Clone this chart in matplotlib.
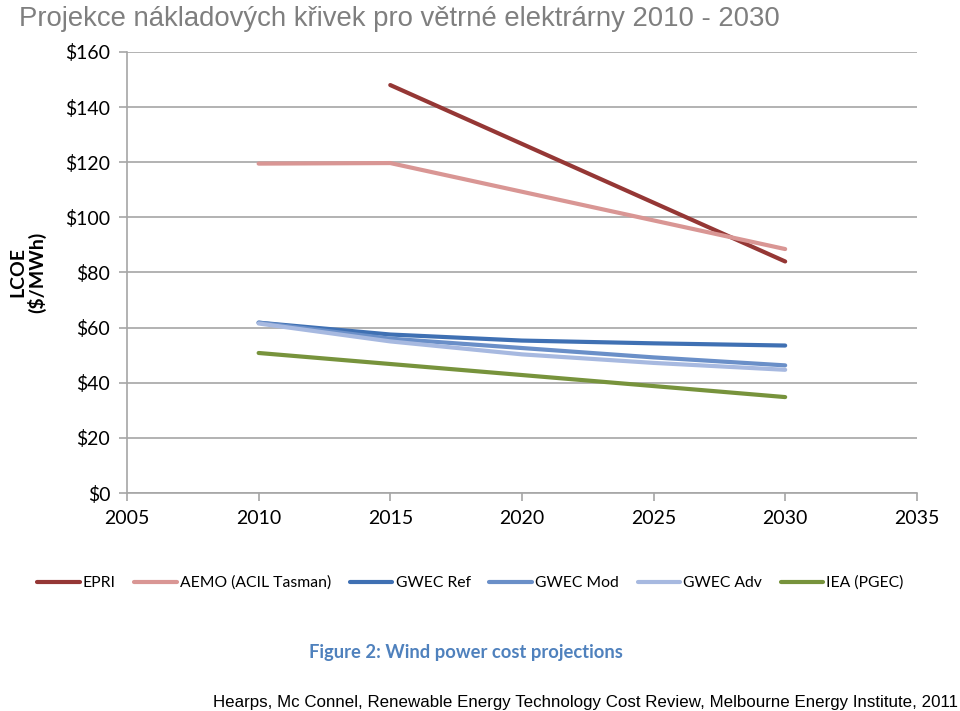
import matplotlib
matplotlib.use("Agg")
import matplotlib.pyplot as plt

# data (LCOE, $/MWh)
epri_years = [2015, 2030]
epri = [148, 84]
aemo_years = [2010, 2015, 2030]
aemo = [119.5, 119.7, 88.5]
gwec_years = [2010, 2015, 2020, 2025, 2030]
gwec_ref = [61.8, 57.5, 55.3, 54.3, 53.5]
gwec_mod = [61.8, 56.0, 52.6, 49.2, 46.3]
gwec_adv = [61.5, 55.0, 50.3, 47.2, 44.7]
iea_years = [2010, 2030]
iea = [50.8, 34.8]

x_ticks = [2005, 2010, 2015, 2020, 2025, 2030, 2035]
y_ticks = [0, 20, 40, 60, 80, 100, 120, 140, 160]

narrow = ["Lato", "DejaVu Sans"]
arial = ["Liberation Sans", "DejaVu Sans"]
grey = "#a6a6a6"

fig = plt.figure(figsize=(9.6, 7.11), dpi=100)
ax = fig.add_axes([0.1323, 0.3066, 0.8227, 0.6203])

ax.plot(epri_years, epri, color="#953735", lw=3, label="EPRI", solid_capstyle="round")
ax.plot(aemo_years, aemo, color="#d99694", lw=3, label="AEMO (ACIL Tasman)", solid_capstyle="round")
ax.plot(gwec_years, gwec_ref, color="#3f70b3", lw=3, label="GWEC Ref", solid_capstyle="round")
ax.plot(gwec_years, gwec_mod, color="#6a8fc8", lw=3, label="GWEC Mod", solid_capstyle="round")
ax.plot(gwec_years, gwec_adv, color="#a7b9e0", lw=3, label="GWEC Adv", solid_capstyle="round")
ax.plot(iea_years, iea, color="#77933c", lw=3, label="IEA (PGEC)", solid_capstyle="round")

ax.set_xlim(2005, 2035)
ax.set_ylim(0, 160)
ax.set_xticks(x_ticks)
ax.set_yticks(y_ticks)
ax.set_yticklabels(["$" + str(v) for v in y_ticks])
ax.yaxis.grid(True, color=grey, lw=1.2)
ax.set_axisbelow(True)

for s in ["top", "right"]:
    ax.spines[s].set_visible(False)
for s in ["left", "bottom"]:
    ax.spines[s].set_color(grey)
    ax.spines[s].set_linewidth(1.2)
ax.tick_params(direction="out", length=6, color=grey, width=1.2, labelsize=14, pad=6)
for lab in ax.get_xticklabels() + ax.get_yticklabels():
    lab.set_family(narrow)

ax.set_ylabel("LCOE\n($/MWh)", fontsize=14, fontweight="bold", family=narrow,
              linespacing=1.0, labelpad=14)

fig.text(0.02, 0.992, "Projekce nákladových křivek pro větrné elektrárny 2010 - 2030",
         fontsize=19.8, color="#7f7f7f", family=arial, va="top", ha="left")

fig.legend(loc="center", bbox_to_anchor=(0.49, 0.18), ncol=6, frameon=False,
           prop={"family": narrow, "size": 11.3}, handlelength=2.7,
           handletextpad=0.2, columnspacing=1.2)

fig.text(0.485, 0.082, "Figure 2: Wind power cost projections", fontsize=13.2,
         fontweight="bold", color="#4f81bd", family=narrow, ha="center", va="center")

fig.text(0.998, 0.002,
         "Hearps, Mc Connel, Renewable Energy Technology Cost Review, Melbourne Energy Institute, 2011",
         fontsize=12.2, family=arial, ha="right", va="bottom")

fig.savefig("out.png", dpi=100)
